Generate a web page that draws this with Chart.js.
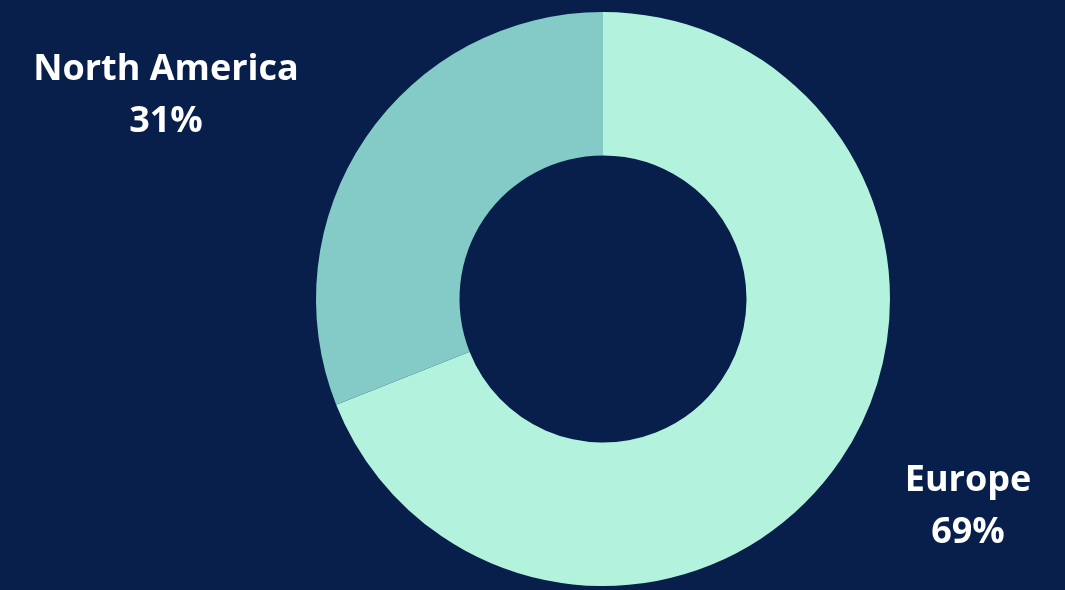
<!DOCTYPE html>
<html>
<head>
<meta charset="utf-8">
<script src="https://cdn.jsdelivr.net/npm/chart.js@4/dist/chart.umd.min.js"></script>
<style>
  html, body { margin: 0; padding: 0; background: #071f4a; }
  #wrap { width: 1065px; height: 590px; }
</style>
</head>
<body>
<div id="wrap"><canvas id="c" width="1065" height="590"></canvas></div>
<script>
const regions = ["Europe", "North America"];
const shares = [69, 31];
const sliceColors = ["#b3f2dc", "#84cbc8"];

// Region labels placed beside the ring: [centerX, firstLineY]
const labelSpots = [[968, 481], [166, 70]];

const sideLabels = {
  id: "sideLabels",
  afterDraw(chart) {
    const ctx = chart.ctx;
    ctx.save();
    ctx.fillStyle = "#ffffff";
    ctx.font = "bold 36px 'Open Sans', Lato, sans-serif";
    ctx.textAlign = "center";
    ctx.textBaseline = "middle";
    regions.forEach((name, i) => {
      const [x, y] = labelSpots[i];
      ctx.fillText(name, x, y);
      ctx.fillText(shares[i] + "%", x, y + 52);
    });
    ctx.restore();
  }
};

new Chart(document.getElementById("c"), {
  type: "doughnut",
  data: {
    labels: regions,
    datasets: [{
      data: shares,
      backgroundColor: sliceColors,
      borderWidth: 0,
      hoverOffset: 0
    }]
  },
  options: {
    responsive: false,
    animation: false,
    cutout: "50%",
    layout: { padding: { top: 12, bottom: 4, left: 141, right: 0 } },
    plugins: { legend: { display: false }, tooltip: { enabled: false } }
  },
  plugins: [sideLabels]
});
</script>
</body>
</html>
